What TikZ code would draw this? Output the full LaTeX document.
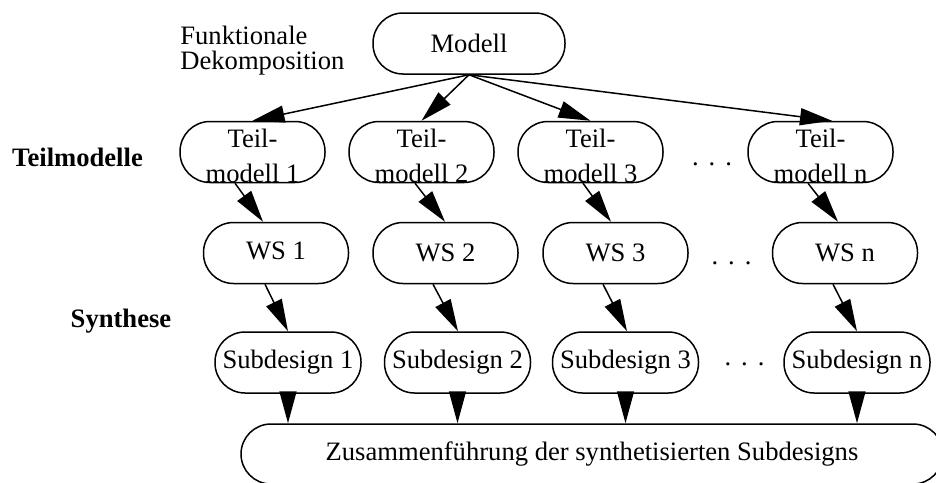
\documentclass[tikz,border=0pt]{standalone}
\usepackage{fontspec}
\setmainfont{Liberation Serif}
\usetikzlibrary{arrows.meta,calc}

\begin{document}
\begin{tikzpicture}[x=0.5pt,y=-0.5pt,
  every node/.style={font=\fontsize{13.3pt}{15pt}\selectfont},
  stadium/.style={draw, line width=0.75pt, rectangle, rounded corners=15pt,
    minimum height=30.5pt, inner sep=0pt},
  tmbox/.style={stadium, minimum width=72.5pt},
  wsbox/.style={stadium, minimum width=72.5pt},
  sdbox/.style={stadium, minimum width=73pt},
  tmtext/.style={align=center, font=\fontsize{13.3pt}{17.5pt}\selectfont, yshift=-1.8pt},
  sidelabel/.style={font=\fontsize{13.3pt}{15pt}\selectfont\bfseries, anchor=base},
  dotrow/.style={anchor=base},
  link/.style={line width=0.75pt, -{Triangle[length=16pt,width=8.5pt]}}
]
\useasboundingbox (0,0) rectangle (936,482);
\clip (0,0) rectangle (936,482);

% top node
\node[stadium, minimum width=96pt] (modell) at (469,43.5) {Modell};

% partial models
\node[tmbox, label={[tmtext]center:Teil-\\modell 1}] (tm1) at (252.5,152) {};
\node[tmbox, label={[tmtext]center:Teil-\\modell 2}] (tm2) at (421.5,152) {};
\node[tmbox, label={[tmtext]center:Teil-\\modell 3}] (tm3) at (590.5,152) {};
\node[tmbox, label={[tmtext]center:Teil-\\modell n}] (tmn) at (820.5,152) {};

% WS row
\node[wsbox] (ws1) at (276,253) {\raisebox{2pt}{WS 1}};
\node[wsbox] (ws2) at (445.5,253) {WS 2};
\node[wsbox] (ws3) at (615.5,253) {WS 3};
\node[wsbox] (wsn) at (845,253) {WS n};

% subdesigns
\node[sdbox] (sd1) at (288,362.5) {Subdesign 1};
\node[sdbox] (sd2) at (457.5,362.5) {Subdesign 2};
\node[sdbox] (sd3) at (625.5,362.5) {Subdesign 3};
\node[sdbox] (sdn) at (857,362.5) {Subdesign n};

% merge node
\node[stadium, minimum width=351pt, minimum height=30pt] (zus) at (592,454)
  {Zusammenführung der synthetisierten Subdesigns};

% side labels
\node[anchor=base west, align=left, font=\fontsize{13.3pt}{12.5pt}\selectfont,
  inner sep=0pt] (fd) at (180,69) {Funktionale\\Dekomposition};
\node[sidelabel] (lteil) at (77.5,166) {Teilmodelle};
\node[sidelabel] (lsyn) at (121,327) {Synthese};

% ellipses between columns
\node[dotrow] (dots1) at (712,165.5) {.\kern5pt.\kern5pt.};
\node[dotrow] (dots2) at (731.5,264.5) {.\kern5pt.\kern5pt.};
\node[dotrow] (dots3) at (744.5,365.5) {.\kern5pt.\kern5pt.};

% decomposition
\draw[link] (modell.south) -- (tm1.north);
\draw[link] (modell.south) -- (tm2.north);
\draw[link] (modell.south) -- (tm3.north);
\draw[link] (modell.south) -- ($(tmn.north)+(11.5,0)$);

% partial models to WS
\draw[link] ($(tm1.south)+(-17.5,0)$) -- ($(ws1.north)+(-13,0)$);
\draw[link] ($(tm2.south)+(-6.5,0)$) -- ($(ws2.north)+(-0.5,0)$);
\draw[link] ($(tm3.south)+(-7.5,0)$) -- ($(ws3.north)+(-4.5,0)$);
\draw[link] ($(tmn.south)+(-12.5,0)$) -- ($(wsn.north)+(-7,0)$);

% synthesis
\draw[link] ($(ws1.south)+(-11,0)$) -- (sd1.north);
\draw[link] ($(ws2.south)+(-12.5,0)$) -- ($(sd2.north)+(0.5,0)$);
\draw[link] ($(ws3.south)+(-12.5,0)$) -- ($(sd3.north)+(1.5,0)$);
\draw[link] ($(wsn.south)+(-12,0)$) -- (sdn.north);

% merging
\draw[link] (sd1.south) -- (sd1.south |- zus.north);
\draw[link] (sd2.south) -- (sd2.south |- zus.north);
\draw[link] (sd3.south) -- (sd3.south |- zus.north);
\draw[link] (sdn.south) -- (sdn.south |- zus.north);
\end{tikzpicture}
\end{document}
